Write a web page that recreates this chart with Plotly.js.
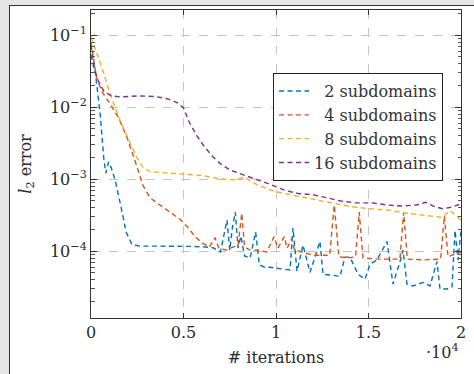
<!DOCTYPE html>
<html><head><meta charset="utf-8">
<script src="https://cdn.plot.ly/plotly-3.0.1.min.js"></script>
<style>
html,body{margin:0;padding:0;background:#e5e5e5;width:474px;height:374px;overflow:hidden}
#frame{position:absolute;left:9px;top:5px;width:465px;height:369px;background:#fff;border-left:1px solid #333;border-top:1px solid #333}
#chart{position:absolute;left:0;top:0;width:464px;height:368px}
</style></head>
<body><div id="frame"><div id="chart"></div></div>
<script>
// iterations and l2 error
const it2 = [0,250,500,700,800,950,1100,1300,1600,1900,2200,2600,3500,4500,5500,6200,6600,7000,7200,7350,7500,7650,7800,7950,8100,8300,8600,8900,9100,9400,9676,10054,10757,10919,11135,11459,11838,12378,12540,12919,13459,13730,14000,14432,14811,15081,15459,16000,16270,16324,16703,16865,17081,17405,17946,18324,18703,18865,19243,19514,19676,19838,20000];
const err2 = [0.073,0.0281,0.0078,0.00185,0.00122,0.00174,0.00143,0.00098,4.4e-4,1.85e-4,1.26e-4,1.18e-4,1.18e-4,1.18e-4,1.17e-4,1.15e-4,1.12e-4,0.98e-4,1.68e-4,2.72e-4,1.04e-4,2.2e-4,3.51e-4,1.11e-4,1.63e-4,0.86e-4,0.81e-4,1.85e-4,0.65e-4,0.6e-4,0.6e-4,0.58e-4,0.55e-4,2.1e-4,0.53e-4,1.22e-4,0.51e-4,1.37e-4,0.48e-4,0.47e-4,0.45e-4,0.83e-4,0.83e-4,0.48e-4,0.41e-4,0.66e-4,0.76e-4,1.37e-4,0.41e-4,0.35e-4,0.72e-4,1.04e-4,0.35e-4,0.33e-4,0.37e-4,0.33e-4,0.72e-4,0.30e-4,0.30e-4,0.32e-4,1.95e-4,0.76e-4,1.9e-4];
const it4 = [0,300,600,1000,1500,2000,2400,2800,3200,3700,4200,4800,5200,5600,6000,6400,6700,6900,7300,7700,7950,8150,8300,8600,9000,9500,9900,10100,10450,10600,10850,11000,11500,12000,12500,12900,13150,13400,13900,14300,14500,14700,15500,16200,16700,16900,17100,18000,18900,19100,19300,20000];
const err4 = [0.081,0.0255,0.0163,0.0115,0.0071,0.0035,0.00174,8.3e-4,5.5e-4,4.5e-4,3.6e-4,2.8e-4,2.2e-4,1.63e-4,1.3e-4,1.15e-4,1.55e-4,1.12e-4,1.04e-4,1.15e-4,1.2e-4,3.4e-4,1.15e-4,1.04e-4,1.04e-4,0.98e-4,1.6e-4,1.1e-4,1.6e-4,1.1e-4,1.5e-4,1.05e-4,0.95e-4,0.88e-4,0.88e-4,0.88e-4,4.4e-4,0.84e-4,0.81e-4,0.84e-4,3.5e-4,0.81e-4,0.78e-4,0.78e-4,0.78e-4,3.5e-4,0.78e-4,0.76e-4,0.78e-4,3.1e-4,0.84e-4,0.98e-4];
const it8 = [0,300,600,1000,1500,2000,2500,2800,3200,4000,5000,6000,7000,7800,8300,9000,10000,11000,12000,13000,14000,15000,16000,17000,18000,19000,19400,20000];
const err8 = [0.095,0.0586,0.0351,0.0163,0.0073,0.0037,0.00197,0.00148,0.00127,0.00123,0.00119,0.00113,0.00101,0.00098,0.00107,8.3e-4,6.7e-4,5.9e-4,5.3e-4,4.7e-4,4.2e-4,3.9e-4,3.75e-4,3.4e-4,3.15e-4,2.95e-4,3.7e-4,2.7e-4];
const it16 = [0,150,400,700,1100,1600,2500,3500,4200,4700,5000,5300,5700,6100,6600,7000,7500,8200,9000,9700,10500,11200,12000,12800,13500,14300,15200,16000,16800,17600,18100,18500,19000,19500,20000];
const err16 = [0.0533,0.0363,0.0232,0.0166,0.0144,0.0139,0.0144,0.0141,0.0130,0.0114,0.0098,0.0063,0.0041,0.0029,0.00204,0.00164,0.00135,0.00115,0.00098,8.5e-4,7e-4,6.35e-4,6.1e-4,5.5e-4,5e-4,4.7e-4,4.7e-4,4.4e-4,4.25e-4,4.4e-4,4.8e-4,4.25e-4,3.9e-4,4.1e-4,4.55e-4];
const names = ['\u20072 subdomains','\u20074 subdomains','\u20078 subdomains','16 subdomains'];
const colors = ['#0072BD','#D95319','#EDB120','#7E2F8E'];
const xTickVals = [0,5000,10000,15000,20000];
const xTickText = ['0','0.5','1','1.5','2'];
const yTickVals = [1e-4,1e-3,1e-2,1e-1];
const yTickText = ['10<sup>−4</sup>','10<sup>−3</sup>','10<sup>−2</sup>','10<sup>−1</sup>'];
const yMinorVals = [];
[1e-5,1e-4,1e-3,1e-2,1e-1].forEach(d=>{for(let k=2;k<=9;k++) yMinorVals.push(k*d);});

const font = 'DejaVu Serif, Liberation Serif, serif';
const fs = 16;
const txt = '#2a2a2a';
const xs = [it2,it4,it8,it16], ys = [err2,err4,err8,err16];
const data = xs.map((x,i)=>({x:x,y:ys[i],type:'scatter',mode:'lines',name:names[i],
  line:{color:colors[i],width:1.4,dash:'5px,3.5px'}}));

const layout = {
  width:464,height:368,
  margin:{l:81,r:13,t:4,b:56},
  paper_bgcolor:'#fff',plot_bgcolor:'#fff',
  font:{family:font,size:fs,color:txt},
  showlegend:true,
  legend:{x:0.492,y:0.795,xanchor:'left',yanchor:'top',bgcolor:'#fff',bordercolor:'#222',borderwidth:1,
    font:{family:font,size:fs,color:'#333'},tracegroupgap:0,itemwidth:30},
  xaxis:{range:[0,20000],tickmode:'array',tickvals:xTickVals,ticktext:xTickText,
    showline:true,linecolor:'#333',linewidth:1,mirror:'ticks',ticks:'inside',ticklen:5,tickcolor:'#333',
    showgrid:true,gridcolor:'#c4c4c4',griddash:'dash',gridwidth:1,zeroline:false,
    tickfont:{family:font,size:fs,color:txt},
    title:{text:'# iterations',font:{family:font,size:fs,color:txt},standoff:10}},
  yaxis:{type:'log',range:[-4.926,-0.649],tickmode:'array',tickvals:yTickVals,ticktext:yTickText,
    showline:true,linecolor:'#333',linewidth:1,mirror:'ticks',ticks:'inside',ticklen:6,tickcolor:'#333',
    minor:{tickmode:'array',tickvals:yMinorVals,ticks:'inside',ticklen:3.5,tickcolor:'#555',showgrid:false},
    showgrid:true,gridcolor:'#c4c4c4',griddash:'dash',gridwidth:1,zeroline:false,
    tickfont:{family:font,size:fs,color:txt},
    title:{text:'<i>l</i><sub>2</sub> error',font:{family:font,size:fs,color:txt},standoff:14}},
  annotations:[{xref:'paper',yref:'paper',x:1.0,y:-0.11,xanchor:'right',yanchor:'middle',showarrow:false,
    text:'·10<sup>4</sup>',font:{family:font,size:fs,color:txt}}]
};
Plotly.newPlot('chart',data,layout,{displayModeBar:false,staticPlot:true});
</script></body></html>
